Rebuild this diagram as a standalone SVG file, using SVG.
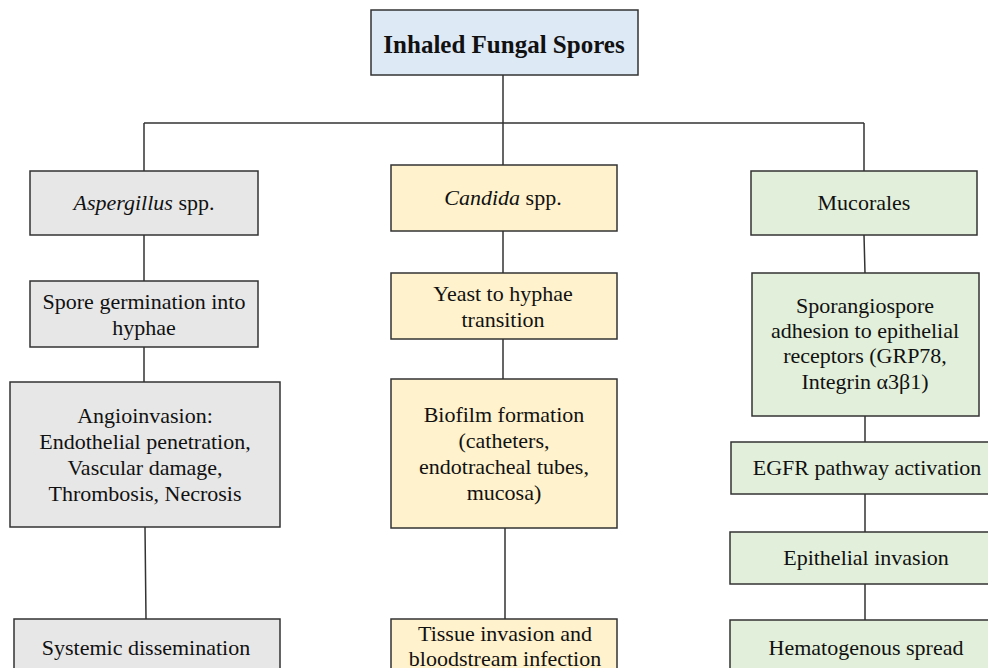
<svg xmlns="http://www.w3.org/2000/svg" width="988" height="668" viewBox="0 0 988 668">
<style>
.n rect{stroke:#333;stroke-width:1.5}
.blue{fill:#dee9f6}.gray{fill:#e7e7e7}.yel{fill:#fff2cc}.grn{fill:#e2efda}
text{font-family:"Liberation Serif","Times New Roman",serif;font-size:22px;fill:#111;text-anchor:middle}
.t{font-weight:bold;font-size:25px}
#connectors path{stroke:#333;stroke-width:1.5;fill:none}
</style>
<rect x="0" y="0" width="988" height="668" fill="#fff"/>
<g id="connectors">
<path d="M503 75V123M144 123H864M144 123V171M503 123V165M864 123V171"/>
<path d="M144 235V281M144 347V382M145 527L146 619"/>
<path d="M503 231V273M503 339V379M505 528V619"/>
<path d="M864 235L865 273M865 416V442M865 494V532M865 584V620"/>
</g>
<g id="root" class="n"><rect class="blue" x="371" y="10" width="267" height="65"/><text class="t" x="504" y="53">Inhaled Fungal Spores</text></g>
<g id="aspergillus" class="n"><rect class="gray" x="30" y="171" width="228" height="64"/><text x="144" y="210"><tspan font-style="italic">Aspergillus</tspan> spp.</text></g>
<g id="germination" class="n"><rect class="gray" x="30" y="281" width="228" height="66"/><text x="144" y="309">Spore germination into</text><text x="144" y="335">hyphae</text></g>
<g id="angioinvasion" class="n"><rect class="gray" x="10" y="382" width="270" height="145"/><text x="145" y="423">Angioinvasion:</text><text x="145" y="449">Endothelial penetration,</text><text x="145" y="475">Vascular damage,</text><text x="145" y="501">Thrombosis, Necrosis</text></g>
<g id="systemic" class="n"><rect class="gray" x="14" y="619" width="266" height="70"/><text x="146" y="655">Systemic dissemination</text></g>
<g id="candida" class="n"><rect class="yel" x="391" y="165" width="226" height="66"/><text x="503" y="205"><tspan font-style="italic">Candida</tspan> spp.</text></g>
<g id="yeast" class="n"><rect class="yel" x="391" y="273" width="226" height="66"/><text x="503" y="301">Yeast to hyphae</text><text x="503" y="327">transition</text></g>
<g id="biofilm" class="n"><rect class="yel" x="391" y="379" width="226" height="149"/><text x="504" y="422">Biofilm formation</text><text x="504" y="448">(catheters,</text><text x="504" y="474">endotracheal tubes,</text><text x="504" y="500">mucosa)</text></g>
<g id="tissue" class="n"><rect class="yel" x="391" y="619" width="226" height="70"/><text x="505" y="641">Tissue invasion and</text><text x="505" y="666">bloodstream infection</text></g>
<g id="mucorales" class="n"><rect class="grn" x="751" y="171" width="226" height="64"/><text x="864" y="210">Mucorales</text></g>
<g id="sporangiospore" class="n"><rect class="grn" x="752" y="273" width="227" height="143"/><text x="865" y="313">Sporangiospore</text><text x="865" y="338">adhesion to epithelial</text><text x="865" y="363">receptors (GRP78,</text><text x="865" y="389">Integrin α3β1)</text></g>
<g id="egfr" class="n"><rect class="grn" x="731" y="442" width="270" height="52"/><text x="867" y="475">EGFR pathway activation</text></g>
<g id="epithelial" class="n"><rect class="grn" x="730" y="532" width="271" height="52"/><text x="866" y="565">Epithelial invasion</text></g>
<g id="hematogenous" class="n"><rect class="grn" x="730" y="620" width="271" height="70"/><text x="866" y="655">Hematogenous spread</text></g>
</svg>
